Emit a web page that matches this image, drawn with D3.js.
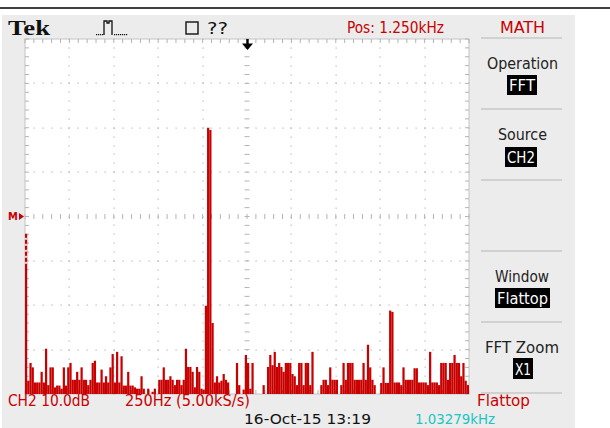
<!DOCTYPE html>
<html><head><meta charset="utf-8">
<script src="https://cdn.jsdelivr.net/npm/d3@7"></script>
<style>
html,body{margin:0;padding:0;background:#fff;}
svg{display:block;}
text{font-family:"Liberation Sans Narrow","DejaVu Sans Condensed","Liberation Sans",sans-serif;}
text.serif{font-family:"Liberation Serif","DejaVu Serif",serif;}
</style></head>
<body>
<svg id="chart" width="610" height="428"></svg>
<script>
// ---- data ----
const spanHz = 2500;            // 10 div x 250 Hz
const binHz = 12.5;
const hzPerDiv = 250;
const dbPerDiv = 10;
const dbRange = [-40, 40];
// FFT magnitude (dB) per 12.5 Hz bin
const spectrumDb = [
  -3.9,-37,-33,-34,-37.4,-37.4,-37.4,-35,-37.4,-29.8,
  -38,-34,-34,-38.5,-38.1,-38.1,-38.8,-34,-38.1,-34,
  -33,-36.8,-36.8,-35,-36.8,-34,-36.8,-36.8,-38,-36.8,
  -33,-32.5,-37.4,-37.4,-34.5,-37.4,-36,-37.4,-34,-31,
  -37.4,-30.5,-37.4,-31.5,-38.1,-38.1,-35,-38.1,-38.1,-38.5,
  -38.8,-38.8,-36,-38.8,-41,-38.8,-41,-39.5,-38.8,-41,
  -36.8,-36.8,-34,-36.8,-36.8,-36,-36.8,-38,-36.8,-36.8,
  -38,-36.8,-29.8,-33.9,-33.9,-35,-38.5,-33.9,-35,-38.8,
  -39,-20.1,20,19.5,-24,-37.4,-36,-37.4,-37,-35.5,
  -36.8,-37.4,-41,-41,-41,-33,-38,-41,-39,-31.2,
  -33,-38.8,-33,-41,-41,-41,-41,-38,-41,-33.9,
  -31.2,-33.5,-30.5,-33.9,-33,-33.9,-35,-33,-33,-33,
  -35.5,-36,-38,-33,-33,-38,-33,-33,-38,-30.5,
  -41,-41,-41,-38,-36.8,-36.8,-38,-34,-36.8,-36.8,
  -36.8,-41,-38,-33,-36.8,-33,-33,-33,-36.8,-36.8,
  -36.8,-36.8,-33,-36.8,-28.9,-34,-36.8,-38,-41,-41,
  -37.5,-34,-37.5,-37.5,-21.2,-21.5,-37.4,-37.4,-37.4,-38,
  -34,-36.8,-36.8,-36.8,-36.8,-34.2,-34.2,-37.4,-37.4,-37.4,
  -37.4,-38,-30.5,-37.4,-37.4,-37.4,-38,-33,-33,-33,
  -36.8,-33,-33,-31.2,-33,-33,-36,-33,-37,-38
];
const headerTexts = ["Pos: 1.250kHz", "MATH"];
const menuLabels = ["Operation", "Source", "Window", "FFT Zoom"];
const menuValues = ["FFT", "CH2", "Flattop", "X1"];
const footerTexts = ["CH2 10.0dB", "250Hz (5.00kS/s)", "Flattop", "16-Oct-15 13:19", "1.03279kHz"];

// ---- drawing ----
const svg = d3.select("#chart");
const RED = "#c80000";
const L = 25, R = 469, T = 39, B = 394;

// page frame
svg.append("line").attr("x1",0).attr("x2",610).attr("y1",8).attr("y2",8).attr("stroke","#000").attr("stroke-width",1.5);
svg.append("rect").attr("x",2).attr("y",15).attr("width",573).attr("height",413).attr("fill","#ececec");

const x = d3.scaleLinear().domain([0, spanHz]).range([L, R]);
const y = d3.scaleLinear().domain(dbRange).range([B, T]);
const xDiv = d3.scaleLinear().domain([0,10]).range([L,R]);
const yDiv = d3.scaleLinear().domain([0,8]).range([T,B]);

// graticule
svg.append("rect").attr("x",L).attr("y",T).attr("width",R-L).attr("height",B-T).attr("fill","#fff");
const g = svg.append("g");
const GRID = "#b4b4b4";
const minorX = d3.range(0,51).map(i=>xDiv(i/5));
const minorY = d3.range(0,41).map(j=>yDiv(j/5));
for (let i=1;i<10;i++){
  if(i===5) continue;
  minorY.forEach(yy=>g.append("rect").attr("x",Math.round(xDiv(i))-0.5).attr("y",Math.round(yy)-0.5).attr("width",1.2).attr("height",1.2).attr("fill",GRID));
}
for (let j=1;j<8;j++){
  if(j===4) continue;
  minorX.forEach(xx=>g.append("rect").attr("x",Math.round(xx)-0.5).attr("y",Math.round(yDiv(j))-0.5).attr("width",1.2).attr("height",1.2).attr("fill",GRID));
}
const cx = xDiv(5), cy = yDiv(4);
minorY.forEach(yy=>g.append("line").attr("x1",cx-2.5).attr("x2",cx+2.5).attr("y1",yy).attr("y2",yy).attr("stroke",GRID).attr("stroke-width",1));
minorX.forEach(xx=>g.append("line").attr("x1",xx).attr("x2",xx).attr("y1",cy-2.5).attr("y2",cy+2.5).attr("stroke",GRID).attr("stroke-width",1));
g.append("rect").attr("x",L).attr("y",T).attr("width",R-L).attr("height",B-T).attr("fill","none").attr("stroke","#c4c4c4").attr("stroke-width",1);
minorX.forEach(xx=>{
  g.append("line").attr("x1",xx).attr("x2",xx).attr("y1",T).attr("y2",T+4).attr("stroke",GRID);
  g.append("line").attr("x1",xx).attr("x2",xx).attr("y1",B-4).attr("y2",B).attr("stroke",GRID);
});
minorY.forEach(yy=>{
  g.append("line").attr("x1",L).attr("x2",L+4).attr("y1",yy).attr("y2",yy).attr("stroke",GRID);
  g.append("line").attr("x1",R-4).attr("x2",R).attr("y1",yy).attr("y2",yy).attr("stroke",GRID);
});

// spectrum trace (columns drawn from the floor)
svg.append("g").selectAll("rect").data(spectrumDb).join("rect")
  .attr("x",(d,i)=>x(i*binHz))
  .attr("width",(d,i)=>x((i+1)*binHz)-x(i*binHz))
  .attr("y",d=>y(Math.max(d,dbRange[0])))
  .attr("height",d=>Math.max(0, y(dbRange[0]) - y(Math.max(d,dbRange[0]))))
  .attr("fill",RED);
// dashed look of the DC line top segment
d3.range(0,5).forEach(k=>svg.append("rect").attr("x",L).attr("y",y(spectrumDb[0])+4+k*6).attr("width",x(binHz)-L).attr("height",2).attr("fill","#f4d0d0"));

// trigger position arrow
svg.append("rect").attr("x",246.3).attr("y",39).attr("width",2.4).attr("height",5).attr("fill","#000");
svg.append("path").attr("d","M242,43.5 L253,43.5 L247.5,50 Z").attr("fill","#000");

// M reference marker
svg.append("text").attr("x",8).attr("y",220).attr("font-size",11).attr("font-weight","bold").attr("fill",RED).text("M");
svg.append("path").attr("d",`M19,${cy-3.5} L24,${cy} L19,${cy+3.5} Z`).attr("fill",RED);

// header
svg.append("text").attr("class","serif").attr("x",8).attr("y",35)
  .attr("font-weight","bold").attr("font-size",22).attr("textLength",42).attr("lengthAdjust","spacingAndGlyphs").attr("fill","#111").text("Tek");
svg.append("path").attr("d","M104,35 V21 H107 V23 H109 V21 H112 V35").attr("fill","none").attr("stroke","#111").attr("stroke-width",1.3);
[96,98,100,102,114,116,118,120,122,124,126].forEach(px=>svg.append("rect").attr("x",px).attr("y",34).attr("width",1.2).attr("height",1.2).attr("fill","#111"));
svg.append("rect").attr("x",186).attr("y",22).attr("width",12).attr("height",12).attr("fill","none").attr("stroke","#111").attr("stroke-width",1.4);
svg.append("text").attr("x",207).attr("y",34).attr("font-size",15).attr("fill","#111").attr("textLength",21).attr("lengthAdjust","spacingAndGlyphs").text("??");
svg.append("text").attr("x",347).attr("y",33).attr("font-size",15).attr("fill",RED).attr("textLength",97).attr("lengthAdjust","spacingAndGlyphs").text(headerTexts[0]);
svg.append("text").attr("x",500).attr("y",33).attr("font-size",15).attr("fill",RED).attr("textLength",45).attr("lengthAdjust","spacingAndGlyphs").text(headerTexts[1]);

// right-hand menu
const SEP = "#c8c8c8";
[38,109,180,251,322,393].forEach(sy=>svg.append("line").attr("x1",481).attr("x2",562).attr("y1",sy).attr("y2",sy).attr("stroke",SEP).attr("stroke-width",1.4));
const menuLabelY = [69, 140, 282, 353];
const menuLabelX = [487, 498, 495, 485];
const menuLabelW = [71, 49, 54, 74];
const boxes = [[507,75,30,20],[505,147,32,20],[495,288,55,20],[513,358,20,21]];
menuLabels.forEach((t,i)=>{
  svg.append("text").attr("x",menuLabelX[i]).attr("y",menuLabelY[i]).attr("font-size",15).attr("fill","#222")
    .attr("textLength",menuLabelW[i]).attr("lengthAdjust","spacingAndGlyphs").text(t);
  const b = boxes[i];
  svg.append("rect").attr("x",b[0]).attr("y",b[1]).attr("width",b[2]).attr("height",b[3]).attr("fill","#000");
  svg.append("text").attr("x",b[0]+b[2]/2).attr("y",b[1]+b[3]-4).attr("text-anchor","middle").attr("font-size",15)
    .attr("fill","#fff").attr("textLength",b[2]-4).attr("lengthAdjust","spacingAndGlyphs").text(menuValues[i]);
});

// footer
svg.append("text").attr("x",8).attr("y",406).attr("font-size",15).attr("fill",RED).attr("textLength",82).attr("lengthAdjust","spacingAndGlyphs").text(footerTexts[0]);
svg.append("text").attr("x",125).attr("y",406).attr("font-size",15).attr("fill",RED).attr("textLength",125).attr("lengthAdjust","spacingAndGlyphs").text(footerTexts[1]);
svg.append("text").attr("x",477).attr("y",406).attr("font-size",15).attr("fill",RED).attr("textLength",53).attr("lengthAdjust","spacingAndGlyphs").text(footerTexts[2]);
svg.append("text").attr("x",244).attr("y",424).attr("font-size",14).attr("fill","#111").attr("textLength",127).attr("lengthAdjust","spacingAndGlyphs").text(footerTexts[3]);
svg.append("text").attr("x",415).attr("y",424).attr("font-size",14).attr("fill","#20c4c4").attr("textLength",80).attr("lengthAdjust","spacingAndGlyphs").text(footerTexts[4]);
</script>
</body></html>
